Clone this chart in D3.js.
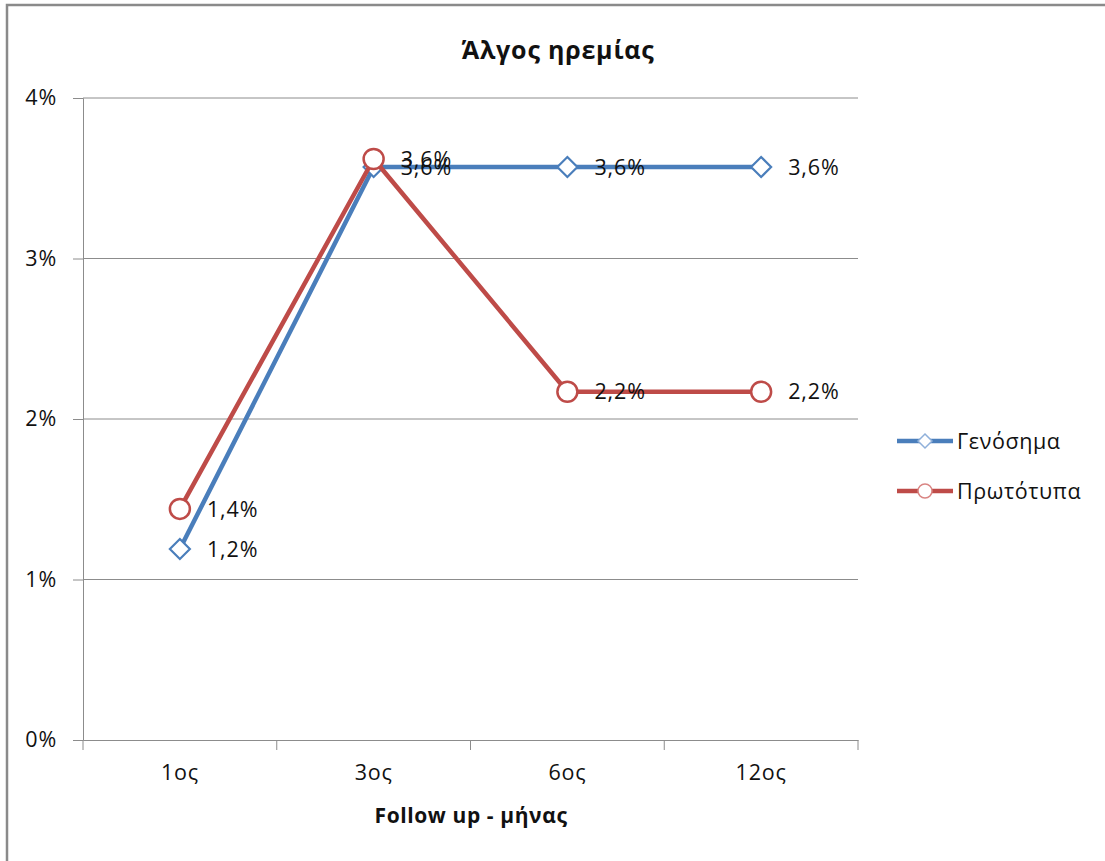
<!DOCTYPE html>
<html><head><meta charset="utf-8">
<script src="https://cdn.jsdelivr.net/npm/d3@7"></script>
<style>
body{margin:0;background:#fff;}
text{font-family:"Open Sans",sans-serif;fill:#111;}
</style></head>
<body><svg id="c" width="1105" height="861"></svg>
<script>
const categories = ["1ος","3ος","6ος","12ος"];
const genericValues = [1.19, 3.57, 3.57, 3.57];
const originalValues = [1.44, 3.62, 2.17, 2.17];
const seriesNames = ["Γενόσημα","Πρωτότυπα"];
const yTicks = [0,1,2,3,4];
const title = "Άλγος ηρεμίας";
const xTitle = "Follow up - μήνας";

const svg = d3.select("#c");
const W=1105,H=861;
svg.append("rect").attr("x",0).attr("y",0).attr("width",W).attr("height",H).attr("fill","#fff");
svg.append("path").attr("d","M7,"+H+" V5 H"+W).attr("fill","none").attr("stroke","#8a8a8a").attr("stroke-width",2.5);

const L=83,R=858,T=98,B=740;
const x = d3.scaleBand().domain(categories).range([L,R]);
const y = d3.scaleLinear().domain([0,4]).range([B,T]);
const fmt = v => d3.format(".1f")(v).replace(".",",")+"%";
const FS = 21.5;

svg.append("g").selectAll("line").data(yTicks.filter(d=>d>0)).join("line")
  .attr("x1",L).attr("x2",R).attr("y1",d=>y(d)).attr("y2",d=>y(d))
  .attr("stroke","#8c8c8c").attr("stroke-width",1);

const ya = svg.append("g").attr("transform","translate("+L+",0)")
  .call(d3.axisLeft(y).tickValues(yTicks).tickFormat(d=>d+"%").tickSize(10).tickPadding(16));
ya.select(".domain").attr("stroke","#8c8c8c");
ya.selectAll(".tick line").attr("stroke","#8c8c8c");
ya.selectAll("text").attr("font-size",FS).attr("font-family","Open Sans").attr("fill","#111").attr("letter-spacing",0.8);

const xa = svg.append("g").attr("transform","translate(0,"+B+")")
  .call(d3.axisBottom(x).tickSize(0).tickPadding(25));
xa.select(".domain").attr("stroke","#8c8c8c");
xa.selectAll("text").attr("font-size",FS).attr("font-family","Open Sans").attr("fill","#111").attr("letter-spacing",0.8);
const bounds = categories.map(c=>x(c)).concat([x(categories[categories.length-1])+x.bandwidth()]);
svg.append("g").selectAll("line").data(bounds).join("line")
  .attr("x1",d=>d).attr("x2",d=>d).attr("y1",B).attr("y2",B+10)
  .attr("stroke","#8c8c8c");

svg.append("text").attr("x",558).attr("y",59).attr("text-anchor","middle")
  .attr("font-size",25).attr("font-weight","bold").attr("letter-spacing",0.8).text(title);
svg.append("text").attr("x",471).attr("y",823).attr("text-anchor","middle")
  .attr("font-size",21).attr("font-weight","bold").attr("letter-spacing",0.6).text(xTitle);

const cx = c => x(c)+x.bandwidth()/2;
const series = [
  {name:seriesNames[0], values:genericValues, color:"#4A7EBB", marker:"diamond"},
  {name:seriesNames[1], values:originalValues, color:"#BE4B48", marker:"circle"}
];
const line = d3.line().x((d,i)=>cx(categories[i])).y(d=>y(d));
function marker(g, type, color){
  if(type==="diamond"){
    g.append("path").attr("d","M0,-10 L10,0 L0,10 L-10,0 Z").attr("fill","#fff").attr("stroke",color).attr("stroke-width",2.2);
  } else {
    g.append("circle").attr("r",10).attr("fill","#fff").attr("stroke",color).attr("stroke-width",2.5);
  }
}
series.forEach(s=>{
  svg.append("path").datum(s.values).attr("d",line).attr("fill","none")
    .attr("stroke",s.color).attr("stroke-width",4.5).attr("stroke-linejoin","round");
  s.values.forEach((v,i)=>{
    const g = svg.append("g").attr("transform","translate("+cx(categories[i])+","+y(v)+")");
    marker(g,s.marker,s.color);
  });
});
series.forEach(s=>{
  svg.append("g").selectAll("text").data(s.values).join("text")
    .attr("x",(d,i)=>cx(categories[i])+27).attr("y",d=>y(d)).attr("dy","0.36em")
    .attr("font-size",FS).attr("letter-spacing",0.9).text(d=>fmt(d));
});

series.forEach((s,i)=>{
  const ly = 441 + i*50;
  svg.append("line").attr("x1",897).attr("x2",953).attr("y1",ly).attr("y2",ly)
    .attr("stroke",s.color).attr("stroke-width",4.5);
  const g = svg.append("g").attr("transform","translate(925,"+ly+")");
  if(s.marker==="diamond") g.append("path").attr("d","M0,-7 L7,0 L0,7 L-7,0 Z").attr("fill","#fff").attr("stroke","#8fb0da").attr("stroke-width",1.5);
  else g.append("circle").attr("r",7).attr("fill","#fff").attr("stroke","#d98583").attr("stroke-width",1.5);
  svg.append("text").attr("x",957).attr("y",ly).attr("dy","0.36em").attr("font-size",FS).attr("letter-spacing",0.6).text(s.name);
});
</script></body></html>
